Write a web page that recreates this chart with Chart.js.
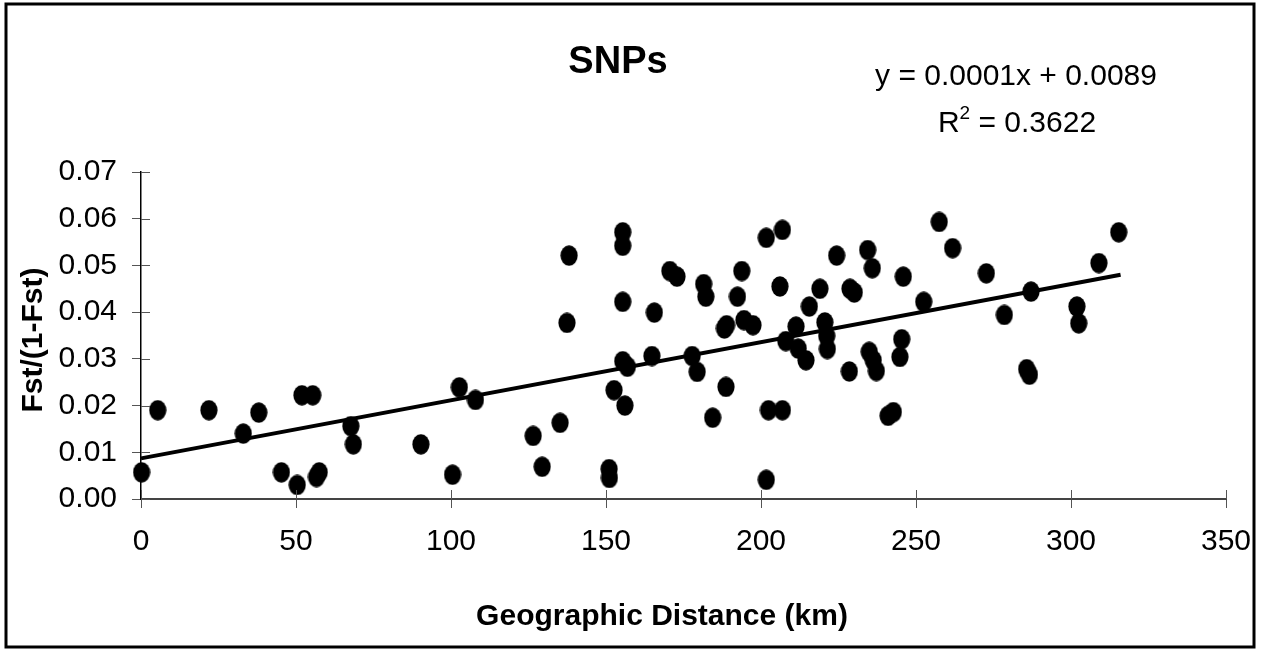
<!DOCTYPE html>
<html><head><meta charset="utf-8">
<script src="https://cdn.jsdelivr.net/npm/chart.js@4/dist/chart.umd.min.js"></script>
<style>html,body{margin:0;padding:0;background:#fff;overflow:hidden}#wrap{width:1261px;height:651px;position:relative}</style>
</head><body><div id="wrap"><canvas id="c" width="1261" height="651"></canvas></div>
<script>
// ---- data ----
const distanceKm = [0.2, 5.4, 21.9, 33.0, 38.0, 45.3, 50.4, 51.9, 55.4, 56.6, 57.5, 67.7, 68.5, 90.3, 100.5, 102.7, 107.9,
  126.5, 129.4, 135.2, 137.4, 138.1, 151.0, 151.1, 152.6, 155.4, 155.4, 155.4, 155.4, 156.1, 156.9, 164.8, 165.6,
  170.6, 172.9, 177.8, 179.4, 181.5, 182.2, 184.4, 188.2, 188.9, 188.7, 192.4, 193.8, 194.5, 197.4, 201.7, 201.7,
  202.4, 206.1, 206.9, 206.9, 208.0, 211.3, 212.0, 214.5, 215.6, 219.0, 220.6, 221.2, 221.4, 224.4, 228.5, 228.7,
  230.1, 234.4, 234.9, 235.9, 236.2, 237.2, 241.0, 242.7, 244.8, 245.4, 245.9, 252.5, 257.5, 261.8, 272.7, 278.5,
  285.7, 286.6, 287.1, 301.9, 302.5, 309.0, 315.4];
const fstRatio = [0.0057, 0.0190, 0.0190, 0.0140, 0.0185, 0.0057, 0.0030, 0.0222, 0.0222, 0.0047, 0.0057, 0.0156, 0.0117, 0.0117, 0.0052, 0.0239, 0.0212,
  0.0135, 0.0069, 0.0163, 0.0377, 0.0521, 0.0064, 0.0045, 0.0233, 0.0571, 0.0542, 0.0422, 0.0295, 0.0200, 0.0283, 0.0306, 0.0399,
  0.0488, 0.0476, 0.0306, 0.0272, 0.0460, 0.0433, 0.0174, 0.0365, 0.0372, 0.0240, 0.0433, 0.0488, 0.0383, 0.0372, 0.0559, 0.0041,
  0.0190, 0.0455, 0.0576, 0.0190, 0.0338, 0.0369, 0.0322, 0.0297, 0.0412, 0.0450, 0.0378, 0.0349, 0.0321, 0.0521, 0.0273, 0.0450,
  0.0442, 0.0533, 0.0315, 0.0494, 0.0297, 0.0274, 0.0178, 0.0186, 0.0304, 0.0342, 0.0476, 0.0422, 0.0593, 0.0537, 0.0483, 0.0394,
  0.0278, 0.0266, 0.0444, 0.0412, 0.0376, 0.0505, 0.0571];
const trendX = [0, 316];
const trendY = [0.0087, 0.0480];
const xTickValues = [0, 50, 100, 150, 200, 250, 300, 350];
const yTickValues = [0, 0.01, 0.02, 0.03, 0.04, 0.05, 0.06, 0.07];
const chartTitle = 'SNPs';
const equationText = 'y = 0.0001x + 0.0089';
const r2Label = 'R';
const r2Sup = '2';
const r2Rest = ' = 0.3622';
const xTitle = 'Geographic Distance (km)';
const yTitle = 'Fst/(1-Fst)';

const FONT = '"Liberation Sans", Arial, Helvetica, sans-serif';

// ellipse marker
const mk = document.createElement('canvas');
mk.width = 18; mk.height = 21;
const mctx = mk.getContext('2d');
mctx.fillStyle = '#000';
mctx.beginPath(); mctx.ellipse(9, 10.5, 8.6, 10.2, 0, 0, Math.PI * 2); mctx.fill();

const points = distanceKm.map((x, i) => ({ x: x, y: fstRatio[i] }));
const trend = trendX.map((x, i) => ({ x: x, y: trendY[i] }));

const decor = {
  id: 'decor',
  beforeDraw(chart) {
    const c = chart.ctx;
    c.save();
    c.fillStyle = '#fff';
    c.fillRect(0, 0, chart.width, chart.height);
    c.restore();
  },
  afterDraw(chart) {
    const c = chart.ctx;
    const xs = chart.scales.x, ys = chart.scales.y;
    c.save();
    // inner halves of cross tick marks
    c.strokeStyle = '#555';
    c.lineWidth = 1;
    xTickValues.forEach(v => {
      const px = Math.round(xs.getPixelForValue(v)) + 0.5;
      c.beginPath(); c.moveTo(px, ys.bottom); c.lineTo(px, ys.bottom - 9); c.stroke();
    });
    yTickValues.forEach(v => {
      const py = Math.round(ys.getPixelForValue(v)) + 0.5;
      c.beginPath(); c.moveTo(xs.left, py); c.lineTo(xs.left + 9, py); c.stroke();
    });
    // outer border
    c.strokeStyle = '#000';
    c.lineWidth = 3;
    c.strokeRect(6, 4, 1248, 643);
    // texts
    c.fillStyle = '#000';
    c.textBaseline = 'alphabetic';
    c.textAlign = 'center';
    c.font = 'bold 38px ' + FONT;
    c.fillText(chartTitle, 618, 73);
    c.font = '30px ' + FONT;
    c.fillText(equationText, 1016, 85);
    // R^2 line
    c.textAlign = 'left';
    c.font = '30px ' + FONT;
    const wR = c.measureText(r2Label).width;
    const wRest = c.measureText(r2Rest).width;
    c.font = '19px ' + FONT;
    const wS = c.measureText(r2Sup).width;
    const total = wR + wS + wRest;
    let sx = 1017 - total / 2;
    c.font = '30px ' + FONT;
    c.fillText(r2Label, sx, 132);
    c.font = '19px ' + FONT;
    c.fillText(r2Sup, sx + wR, 119);
    c.font = '30px ' + FONT;
    c.fillText(r2Rest, sx + wR + wS, 132);
    // axis titles
    c.textAlign = 'center';
    c.font = 'bold 30px ' + FONT;
    c.fillText(xTitle, 662, 625);
    c.translate(42, 340);
    c.rotate(-Math.PI / 2);
    c.fillText(yTitle, 0, 0);
    c.restore();
  }
};

new Chart(document.getElementById('c'), {
  type: 'scatter',
  data: {
    datasets: [
      {
        label: 'SNPs',
        data: points,
        pointStyle: mk,
        pointRadius: 10,
        pointHoverRadius: 10,
        backgroundColor: '#000',
        borderColor: '#000',
        clip: false,
        order: 2
      },
      {
        label: 'trend',
        type: 'line',
        data: trend,
        borderColor: '#000',
        borderWidth: 4,
        pointRadius: 0,
        fill: false,
        tension: 0,
        clip: false,
        order: 1
      }
    ]
  },
  options: {
    responsive: false,
    animation: false,
    devicePixelRatio: 1,
    events: [],
    layout: { padding: { top: 172, right: 35, bottom: 0, left: 0 } },
    plugins: { legend: { display: false }, title: { display: false }, tooltip: { enabled: false } },
    scales: {
      x: {
        type: 'linear',
        min: 0, max: 350,
        afterBuildTicks: s => { s.ticks = xTickValues.map(v => ({ value: v })); },
        afterFit: s => { s.height = 152; s.paddingLeft = 0; s.paddingRight = 0; },
        ticks: { color: '#000', font: { family: FONT, size: 30 }, padding: 16, maxRotation: 0, autoSkip: false },
        grid: { drawOnChartArea: false, drawTicks: true, tickLength: 9, color: '#555', lineWidth: 1 },
        border: { display: true, color: '#444', width: 2 },
        title: { display: false }
      },
      y: {
        type: 'linear',
        min: 0, max: 0.07,
        afterBuildTicks: s => { s.ticks = yTickValues.map(v => ({ value: v })); },
        afterFit: s => { s.width = 141; s.paddingTop = 0; s.paddingBottom = 0; },
        ticks: { color: '#000', font: { family: FONT, size: 30 }, padding: 15, autoSkip: false,
                 callback: v => Number(v).toFixed(2) },
        grid: { drawOnChartArea: false, drawTicks: true, tickLength: 9, color: '#555', lineWidth: 1 },
        border: { display: true, color: '#000', width: 1.5 },
        title: { display: false }
      }
    }
  },
  plugins: [decor]
});
</script>
</body></html>
